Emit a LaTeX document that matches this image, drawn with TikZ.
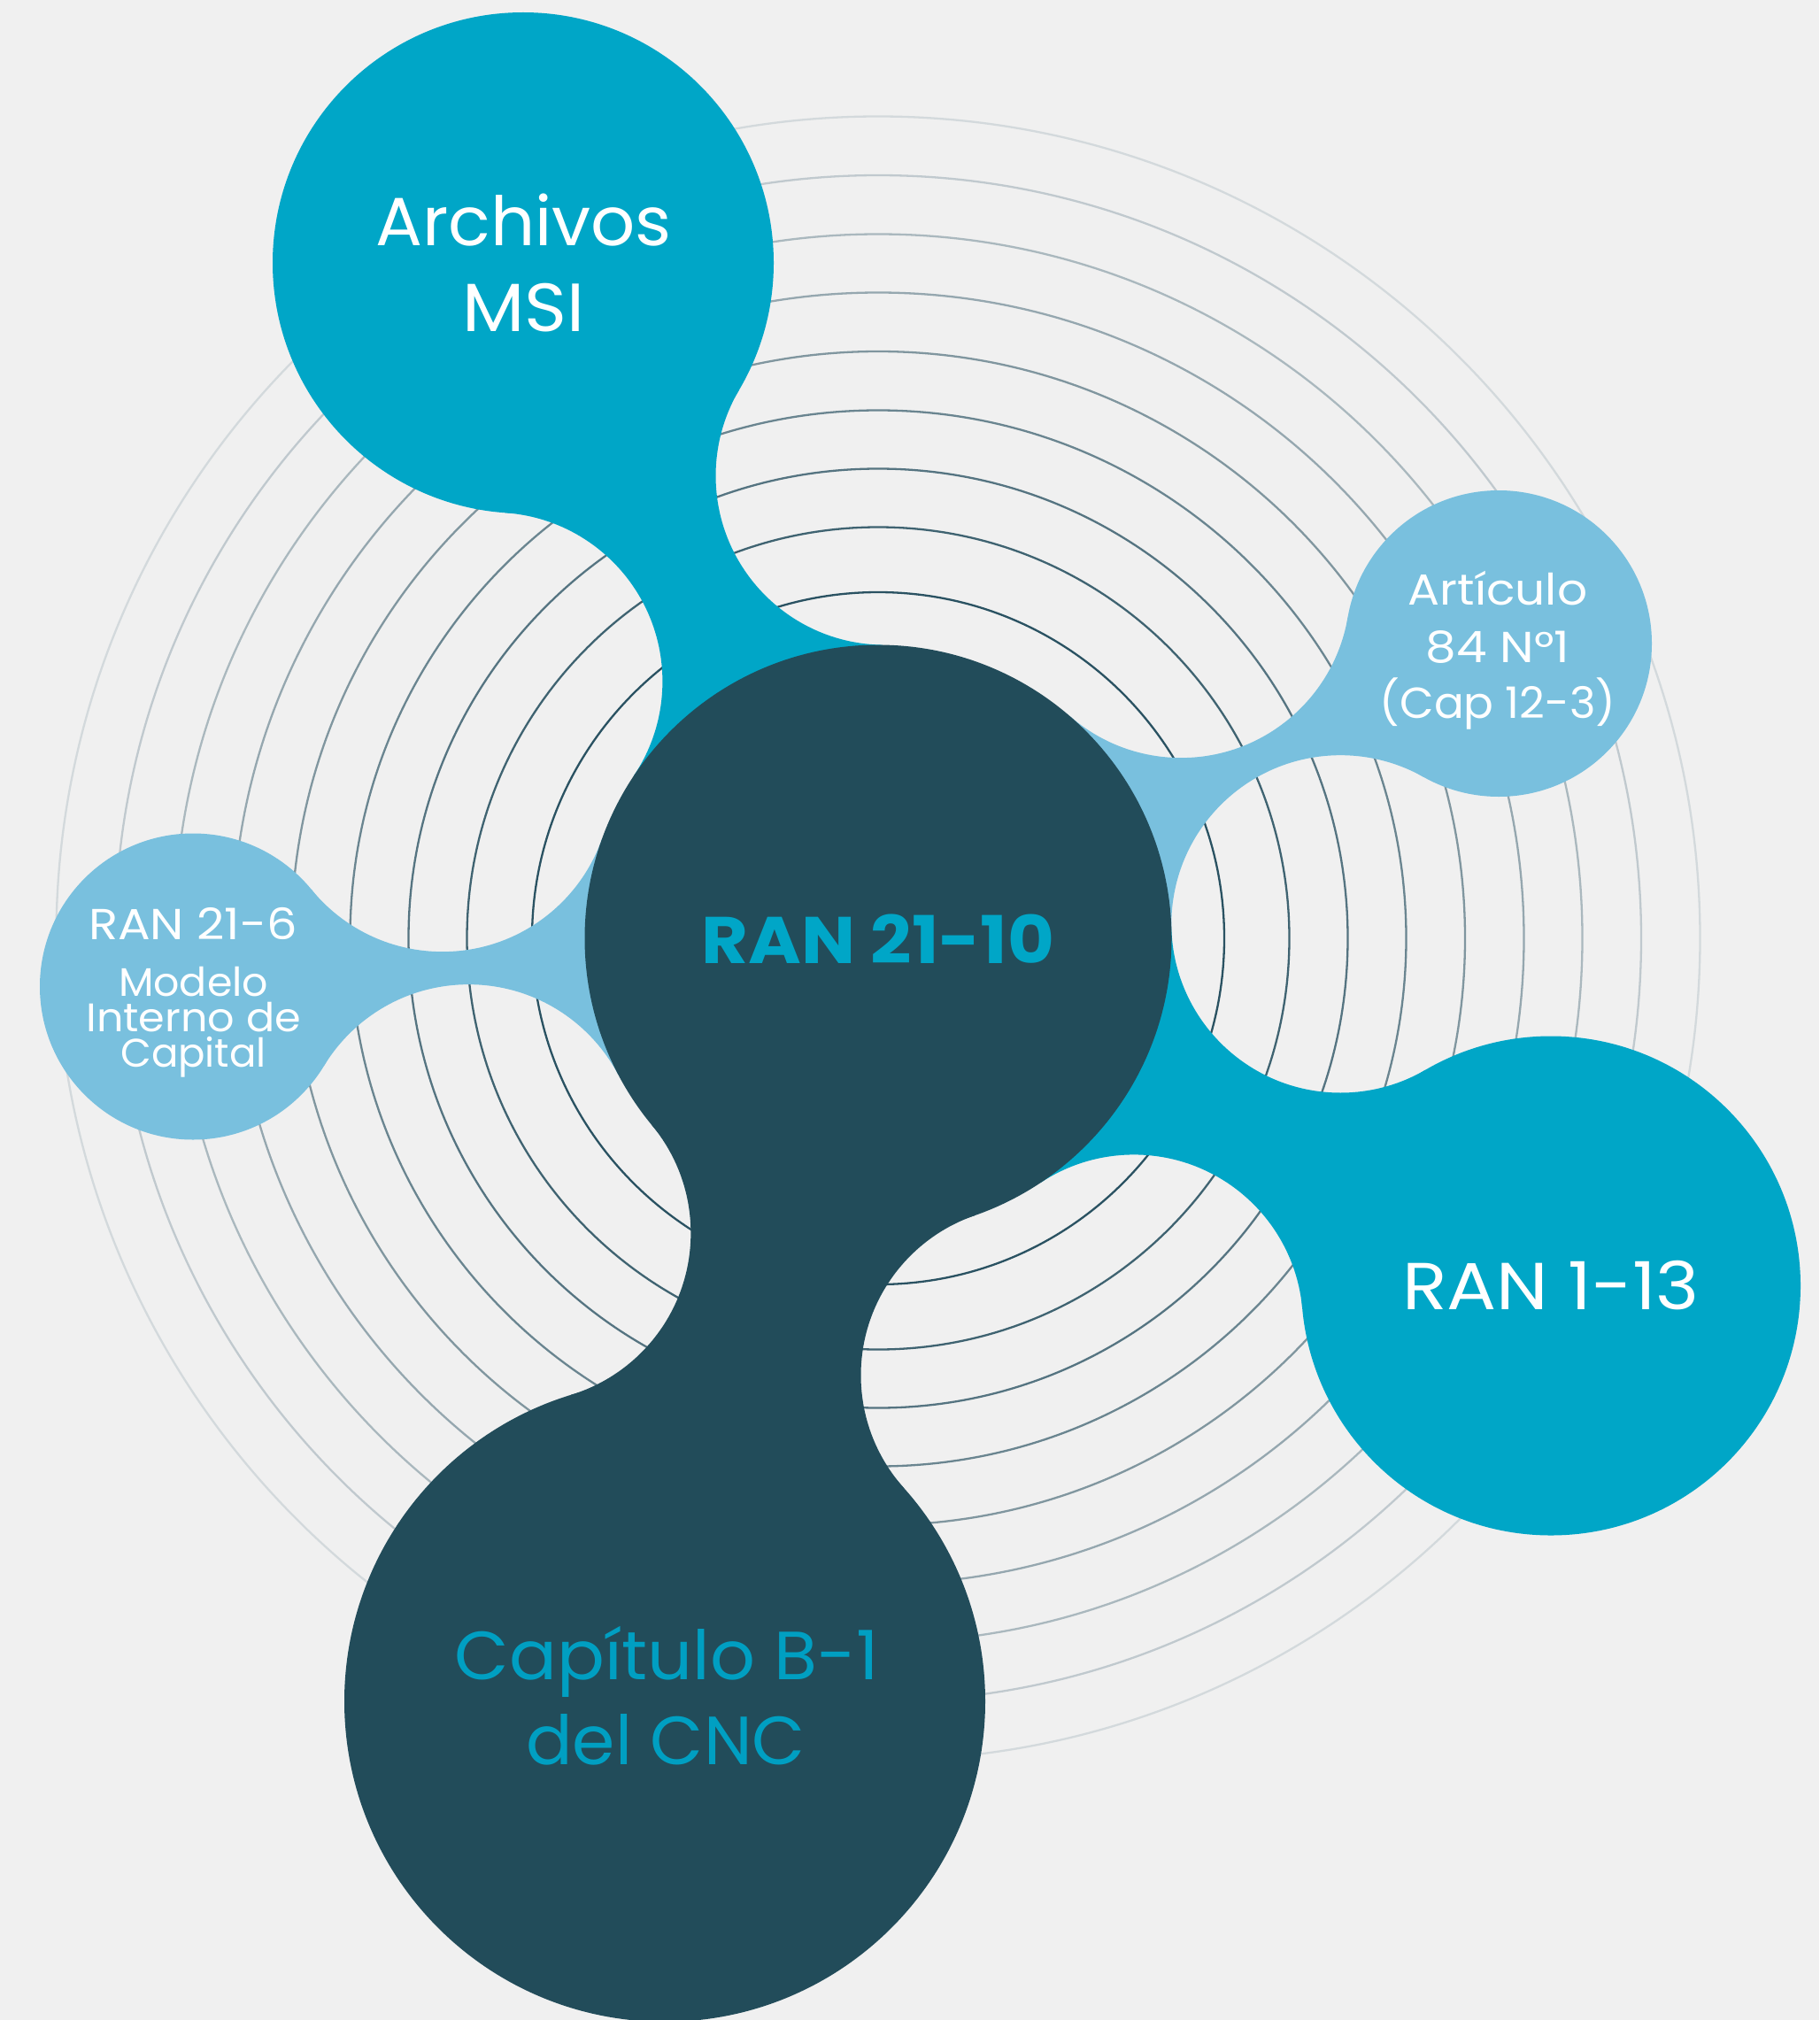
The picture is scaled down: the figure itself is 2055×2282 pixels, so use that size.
\documentclass[tikz,border=0pt]{standalone}
\usepackage{fontspec}
\setmainfont{Poppins}
\usetikzlibrary{intersections}
\definecolor{bgc}{HTML}{F0F0F0}
\definecolor{cyanb}{HTML}{00A6C7}
\definecolor{lightb}{HTML}{79C0DE}
\definecolor{darkb}{HTML}{224C5A}
\definecolor{ringdk}{HTML}{2A5262}
\definecolor{ringlt}{HTML}{DCE0E2}
\definecolor{captxt}{HTML}{009FC2}
\newcommand\mkneck[6]{%
  \path[name path=#1a] (#2) circle[radius=#3pt];
  \path[name path=#1b] (#4) circle[radius=#5pt];
  \path[name intersections={of=#1a and #1b, by={#1f1,#1f2}}];
  \begin{scope}[even odd rule]
    \clip (0,0) rectangle (2055,2282) (#1f1) circle[radius=191pt];
    \clip (0,0) rectangle (2055,2282) (#1f2) circle[radius=191pt];
    \fill[#6] (#2) -- (#1f1) -- (#4) -- (#1f2) -- cycle;
  \end{scope}}
\newcommand\xs[2]{\scalebox{#1}[1]{#2}}
\begin{document}
\begin{tikzpicture}[x=1pt,y=-1pt,
  blob/.style={circle,inner sep=0pt,outer sep=0pt,minimum size=#1},
  ring/.style={line width=2.3pt},
  lbl/.style={anchor=base,inner sep=0pt,text=white},
  tight/.style={text height=32pt,text depth=3pt}]
\fill[bgc] (0,0) rectangle (2055,2282);
\useasboundingbox (0,0) rectangle (2055,2282);
% centres
\coordinate (cMain) at (992,1060);
\coordinate (cArch) at (591,297);
\coordinate (cR216) at (218,1114.5);
\coordinate (cArt)  at (1693,727);
\coordinate (cR113) at (1752,1452.5);
\coordinate (cCap)  at (751,1922);
% rings
\foreach \r/\p in {391/100,464.5/88,530.5/76,596.5/64,663/52,729.5/40,795.5/28,862/16,928.5/5}
  \draw[ring,ringdk!\p!ringlt] (cMain) circle[radius=\r pt];
% necks
\mkneck{na}{cMain}{522.5}{cArch}{474}{cyanb}
\mkneck{nb}{cMain}{522.5}{cR216}{364}{lightb}
\mkneck{nc}{cMain}{522.5}{cArt}{364}{lightb}
\mkneck{nd}{cMain}{522.5}{cR113}{473}{cyanb}
\mkneck{ne}{cMain}{522.5}{cCap}{553}{darkb}
% blobs
\node[blob=566pt,fill=cyanb] (arch) at (cArch) {};
\node[blob=346pt,fill=lightb] (r216) at (cR216) {};
\node[blob=346pt,fill=lightb] (art) at (cArt) {};
\node[blob=564pt,fill=cyanb] (r113) at (cR113) {};
\node[blob=724pt,fill=darkb] (cap) at (cCap) {};
\node[blob=663pt,fill=darkb] (main) at (cMain) {};
% labels
\node[lbl,font=\fontsize{77}{97}\selectfont] (archA) at (591.5,277) {\xs{1.02}{Archivos}};
\node[lbl,font=\fontsize{77}{97}\selectfont] (archB) at (591.5,374) {\xs{1.06}{MSI}};
\node[lbl,text=cyanb,font=\bfseries\fontsize{74.5}{90}\selectfont] (mainA) at (992,1088) {\xs{1.09}{RAN 21-10}};
\node[lbl,font=\fontsize{49}{60}\selectfont] (artA) at (1692,683.6) {\xs{1.09}{Artículo}};
\node[lbl,font=\fontsize{49}{60}\selectfont] (artB) at (1692,748) {\xs{1.12}{84 N°1}};
\node[lbl,font=\fontsize{49}{60}\selectfont] (artC) at (1692,811) {\xs{1.02}{(Cap 12-3)}};
\node[lbl,font=\fontsize{75}{90}\selectfont] (r113A) at (1752,1479) {\xs{1.11}{RAN 1-13}};
\node[lbl,font=\fontsize{49}{60}\selectfont] (r216A) at (218,1061.4) {\xs{1.11}{RAN 21-6}};
\node[lbl,tight,font=\fontsize{45}{40}\selectfont] (r216B) at (218.6,1125.4) {\xs{1.02}{Modelo}};
\node[lbl,tight,font=\fontsize{45}{40}\selectfont] (r216C) at (218.6,1165.6) {\xs{1.06}{Interno de}};
\node[lbl,tight,font=\fontsize{45}{40}\selectfont] (r216D) at (218.6,1205.4) {Capital};
\node[lbl,text=captxt,font=\fontsize{77}{97}\selectfont] (capA) at (753.5,1897) {\xs{1.035}{Capítulo B-1}};
\node[lbl,text=captxt,font=\fontsize{77}{97}\selectfont] (capB) at (752,1993.5) {\xs{1.01}{del CNC}};
\end{tikzpicture}
\end{document}
